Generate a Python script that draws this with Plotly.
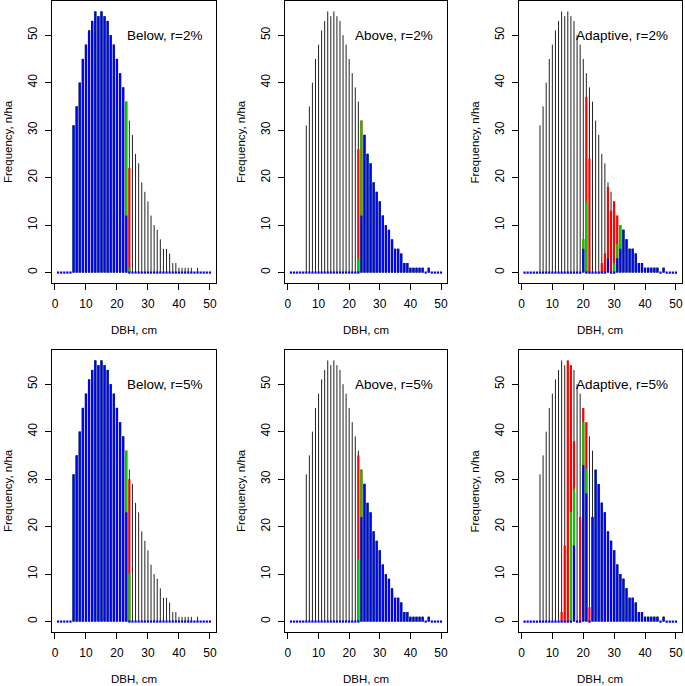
import plotly.graph_objects as go

# DBH classes, cm
dbh = list(range(1, 51))

# stand before harvest, n/ha
initial = [0, 0, 0, 0, 0, 31, 35, 40, 45, 48, 51, 53, 55, 54, 55, 54, 53, 50, 48, 45,
           42, 39, 36, 32, 29, 25, 23, 19, 17, 15, 12, 10, 9, 7, 5, 5, 4, 2, 2, 1,
           1, 1, 1, 1, 0, 1, 0, 0, 0, 0]

# thinning from below
below2_red = [0, 0, 0, 0, 0, 31, 35, 40, 45, 48, 51, 53, 55, 54, 55, 54, 53, 50, 48, 45,
              42, 39, 36, 22, 0, 0, 0, 0, 0, 0, 0, 0, 0, 0, 0, 0, 0, 0, 0, 0,
              0, 0, 0, 0, 0, 0, 0, 0, 0, 0]
below2_green = [0, 0, 0, 0, 0, 31, 35, 40, 45, 48, 51, 53, 55, 54, 55, 54, 53, 50, 48, 45,
                42, 39, 36, 1, 0, 0, 0, 0, 0, 0, 0, 0, 0, 0, 0, 0, 0, 0, 0, 0,
                0, 0, 0, 0, 0, 0, 0, 0, 0, 0]
below2_blue = [0, 0, 0, 0, 0, 31, 35, 40, 45, 48, 51, 53, 55, 54, 55, 54, 53, 50, 48, 45,
               42, 39, 12, 0, 0, 0, 0, 0, 0, 0, 0, 0, 0, 0, 0, 0, 0, 0, 0, 0,
               0, 0, 0, 0, 0, 0, 0, 0, 0, 0]

below5_red = [0, 0, 0, 0, 0, 31, 35, 40, 45, 48, 51, 53, 55, 54, 55, 54, 53, 50, 48, 45,
              42, 39, 36, 30, 0, 0, 0, 0, 0, 0, 0, 0, 0, 0, 0, 0, 0, 0, 0, 0,
              0, 0, 0, 0, 0, 0, 0, 0, 0, 0]
below5_green = [0, 0, 0, 0, 0, 31, 35, 40, 45, 48, 51, 53, 55, 54, 55, 54, 53, 50, 48, 45,
                42, 39, 36, 10, 0, 0, 0, 0, 0, 0, 0, 0, 0, 0, 0, 0, 0, 0, 0, 0,
                0, 0, 0, 0, 0, 0, 0, 0, 0, 0]
below5_blue = [0, 0, 0, 0, 0, 31, 35, 40, 45, 48, 51, 53, 55, 54, 55, 54, 53, 50, 48, 45,
               42, 39, 23, 0, 0, 0, 0, 0, 0, 0, 0, 0, 0, 0, 0, 0, 0, 0, 0, 0,
               0, 0, 0, 0, 0, 0, 0, 0, 0, 0]

# thinning from above
above2_red = [0, 0, 0, 0, 0, 0, 0, 0, 0, 0, 0, 0, 0, 0, 0, 0, 0, 0, 0, 0,
              0, 0, 26, 32, 29, 25, 23, 19, 17, 15, 12, 10, 9, 7, 5, 5, 4, 2, 2, 1,
              1, 1, 1, 1, 0, 1, 0, 0, 0, 0]
above2_green = [0, 0, 0, 0, 0, 0, 0, 0, 0, 0, 0, 0, 0, 0, 0, 0, 0, 0, 0, 0,
                0, 0, 3, 32, 29, 25, 23, 19, 17, 15, 12, 10, 9, 7, 5, 5, 4, 2, 2, 1,
                1, 1, 1, 1, 0, 1, 0, 0, 0, 0]
above2_blue = [0, 0, 0, 0, 0, 0, 0, 0, 0, 0, 0, 0, 0, 0, 0, 0, 0, 0, 0, 0,
               0, 0, 0, 12, 29, 25, 23, 19, 17, 15, 12, 10, 9, 7, 5, 5, 4, 2, 2, 1,
               1, 1, 1, 1, 0, 1, 0, 0, 0, 0]

above5_red = [0, 0, 0, 0, 0, 0, 0, 0, 0, 0, 0, 0, 0, 0, 0, 0, 0, 0, 0, 0,
              0, 0, 35, 32, 29, 25, 23, 19, 17, 15, 12, 10, 9, 7, 5, 5, 4, 2, 2, 1,
              1, 1, 1, 1, 0, 1, 0, 0, 0, 0]
above5_green = [0, 0, 0, 0, 0, 0, 0, 0, 0, 0, 0, 0, 0, 0, 0, 0, 0, 0, 0, 0,
                0, 0, 13, 32, 29, 25, 23, 19, 17, 15, 12, 10, 9, 7, 5, 5, 4, 2, 2, 1,
                1, 1, 1, 1, 0, 1, 0, 0, 0, 0]
above5_blue = [0, 0, 0, 0, 0, 0, 0, 0, 0, 0, 0, 0, 0, 0, 0, 0, 0, 0, 0, 0,
               0, 0, 0, 22, 29, 25, 23, 19, 17, 15, 12, 10, 9, 7, 5, 5, 4, 2, 2, 1,
               1, 1, 1, 1, 0, 1, 0, 0, 0, 0]

# adaptive thinning
adapt2_red = [0, 0, 0, 0, 0, 0, 0, 0, 0, 0, 0, 0, 0, 0, 0, 0, 0, 0, 0, 7,
              37, 24, 0, 0, 0, 2, 4, 18, 13, 15, 12, 10, 9, 7, 5, 5, 4, 2, 2, 1,
              1, 1, 1, 1, 0, 1, 0, 0, 0, 0]
adapt2_green = [0, 0, 0, 0, 0, 0, 0, 0, 0, 0, 0, 0, 0, 0, 0, 0, 0, 0, 0, 7,
                15, 0, 0, 0, 0, 0, 0, 3, 0, 2, 6, 10, 9, 7, 5, 5, 4, 2, 2, 1,
                1, 1, 1, 1, 0, 1, 0, 0, 0, 0]
adapt2_blue = [0, 0, 0, 0, 0, 0, 0, 0, 0, 0, 0, 0, 0, 0, 0, 0, 0, 0, 0, 5,
               0, 0, 0, 0, 0, 0, 0, 3, 0, 0, 3, 5, 9, 7, 5, 5, 4, 2, 2, 1,
               1, 1, 1, 1, 0, 1, 0, 0, 0, 0]

adapt5_red = [0, 0, 0, 0, 0, 0, 0, 0, 0, 0, 0, 0, 2, 16, 55, 54, 38, 0, 22, 45,
              42, 3, 22, 32, 29, 25, 23, 19, 17, 15, 12, 10, 9, 7, 5, 5, 4, 2, 2, 1,
              1, 1, 1, 1, 0, 1, 0, 0, 0, 0]
adapt5_green = [0, 0, 0, 0, 0, 0, 0, 0, 0, 0, 0, 0, 0, 0, 0, 23, 28, 0, 0, 42,
                32, 0, 22, 32, 29, 25, 23, 19, 17, 15, 12, 10, 9, 7, 5, 5, 4, 2, 2, 1,
                1, 1, 1, 1, 0, 1, 0, 0, 0, 0]
adapt5_blue = [0, 0, 0, 0, 0, 0, 0, 0, 0, 0, 0, 0, 0, 0, 0, 0, 16, 0, 0, 33,
               27, 0, 22, 32, 29, 25, 23, 19, 17, 15, 12, 10, 9, 7, 5, 5, 4, 2, 2, 1,
               1, 1, 1, 1, 0, 1, 0, 0, 0, 0]

panels = [
    ("Below, r=2%", below2_red, below2_green, below2_blue),
    ("Above, r=2%", above2_red, above2_green, above2_blue),
    ("Adaptive, r=2%", adapt2_red, adapt2_green, adapt2_blue),
    ("Below, r=5%", below5_red, below5_green, below5_blue),
    ("Above, r=5%", above5_red, above5_green, above5_blue),
    ("Adaptive, r=5%", adapt5_red, adapt5_green, adapt5_blue),
]

W, H = 685, 686
FONT = "Liberation Sans, Arial, sans-serif"
col_px = [(52, 216), (285, 447), (518.5, 682)]
row_px = [(1, 283), (350, 632)]


def spikes(values):
    # R type="h": one vertical segment per DBH class
    xs, ys = [], []
    for x, v in zip(dbh, values):
        if v > 0:
            xs += [x, x, None]
            ys += [0, v, None]
    return xs, ys


fig = go.Figure()
annotations = []

for i, (label, red, green, blue) in enumerate(panels):
    r, c = divmod(i, 3)
    n = "" if i == 0 else str(i + 1)
    xa, ya = "x" + n, "y" + n
    for values, color, width in [(initial, "#222222", 1), (red, "#FF0000", 2.2),
                                 (green, "#00CD00", 2.2), (blue, "#0000FF", 2.2)]:
        xs, ys = spikes(values)
        fig.add_trace(go.Scatter(x=xs, y=ys, mode="lines", xaxis=xa, yaxis=ya,
                                 line=dict(color=color, width=width),
                                 showlegend=False, hoverinfo="skip"))
    # zero-height blue spikes show as dots along the baseline
    zx = [x for x, v in zip(dbh, blue) if v == 0]
    fig.add_trace(go.Scatter(x=zx, y=[0] * len(zx), mode="markers", xaxis=xa, yaxis=ya,
                             marker=dict(symbol="square", size=2.2, color="#0000FF",
                                         line=dict(width=0)),
                             showlegend=False, hoverinfo="skip"))

    l, rt = col_px[c]
    t, b = row_px[r]
    axis_common = dict(showline=True, mirror=True, linecolor="black", linewidth=1,
                       ticks="outside", ticklen=6, tickwidth=1, tickcolor="black",
                       showgrid=False, zeroline=False, ticklabeloverflow="allow",
                       tickfont=dict(family=FONT, size=12, color="black"))
    fig.update_layout(**{
        "xaxis" + n: dict(domain=[l / W, rt / W], range=[-0.96, 51.96],
                          tickvals=[0, 10, 20, 30, 40, 50], anchor=ya,
                          ticklabelstandoff=4, **axis_common),
        "yaxis" + n: dict(domain=[1 - b / H, 1 - t / H], range=[-2.2, 57.2],
                          tickvals=[0, 10, 20, 30, 40, 50], tickangle=-90,
                          anchor=xa, ticklabelstandoff=3, **axis_common),
    })
    annotations.append(dict(text=label, xref=xa + " domain", yref=ya + " domain",
                            x=1, y=1, xanchor="right", yanchor="middle",
                            xshift=-12, yshift=-34, showarrow=False,
                            font=dict(family=FONT, size=13.5, color="black")))
    annotations.append(dict(text="DBH, cm", xref="paper", yref="paper",
                            x=(l + rt) / 2 / W, y=1 - (b + 47) / H,
                            xanchor="center", yanchor="middle", showarrow=False,
                            font=dict(family=FONT, size=11.5, color="black")))
    annotations.append(dict(text="Frequency, n/ha", xref="paper", yref="paper",
                            x=(l - 44) / W, y=1 - (t + b) / 2 / H, textangle=-90,
                            xanchor="center", yanchor="middle", showarrow=False,
                            font=dict(family=FONT, size=11.5, color="black")))

fig.update_layout(width=W, height=H, margin=dict(l=0, r=0, t=0, b=0),
                  paper_bgcolor="white", plot_bgcolor="white",
                  annotations=annotations)

fig.write_html("out.html", config={"displayModeBar": False},
               post_script="document.body.style.margin = '0px';")
